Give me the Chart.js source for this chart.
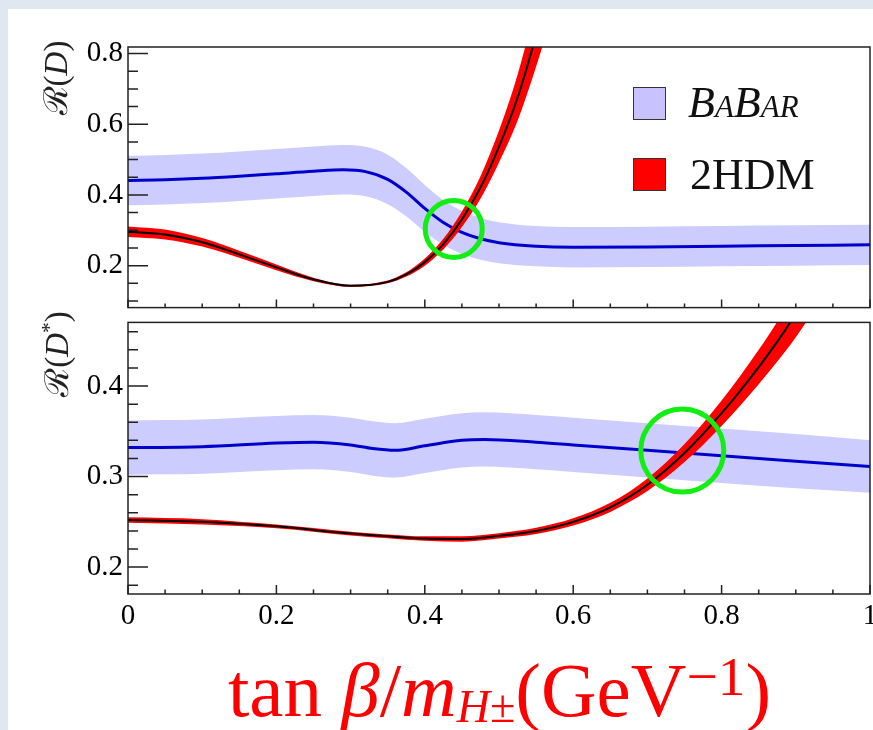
<!DOCTYPE html>
<html>
<head>
<meta charset="utf-8">
<script src="https://cdn.jsdelivr.net/npm/chart.js@4"></script>
<style>
  body { margin: 0; width: 873px; height: 730px; overflow: hidden; background: #dfe7f1; position: relative; font-family: "Liberation Serif", "DejaVu Serif", serif; }
  #paper { position: absolute; left: 8px; top: 9px; width: 900px; height: 730px; background: #fff; }
  canvas { position: absolute; left: 0; }
  #cTop { top: 0; }
  #cBot { top: 300px; }
  .lbox { position: absolute; width: 31px; height: 31px; border: 1.5px solid #333; }
  .ltext { position: absolute; white-space: nowrap; line-height: 1; color: #111; }
  .ytitle { position: absolute; white-space: nowrap; font-size: 33px; line-height: 1; transform: translate(-50%, -50%) rotate(-90deg); color: #222; }
  #xtitle { position: absolute; left: 0; width: 999px; top: 652px; text-align: center; font-size: 77px; line-height: 1; color: #ff0000; white-space: nowrap; }
  #xtitle .sb { font-size: 0.6em; position: relative; top: 6px; }
  #xtitle .sp { font-size: 0.72em; position: relative; top: -21px; }
</style>
</head>
<body>
<div id="paper"></div>
<canvas id="cTop" width="920" height="330" style="width:920px;height:330px"></canvas>
<canvas id="cBot" width="920" height="430" style="width:920px;height:430px"></canvas>

<div class="lbox" style="left:633px;top:87px;background:#c8c2ff"></div>
<div class="ltext" style="left:688px;top:81px;font-size:44px;font-style:italic;font-variant:small-caps">BaBar</div>
<div class="lbox" style="left:633px;top:158px;background:#ff0000"></div>
<div class="ltext" style="left:690px;top:153px;font-size:44px">2HDM</div>

<div class="ytitle" style="left:56px;top:78px">ℛ(<i>D</i>)</div>
<div class="ytitle" style="left:56px;top:354px">ℛ(<i>D</i><sup style="font-size:0.65em">*</sup>)</div>

<div id="xtitle">tan <i>β</i>/<i>m</i><span class="sb"><i>H</i>±</span>(GeV<span class="sp">−1</span>)</div>

<script>
// ---- tick values ----
const xTicks = [0, 0.2, 0.4, 0.6, 0.8, 1];
const xMinor = [0.05, 0.1, 0.15, 0.25, 0.3, 0.35, 0.45, 0.5, 0.55, 0.65, 0.7, 0.75, 0.85, 0.9, 0.95];
const yTicksTop = [0.2, 0.4, 0.6, 0.8];
const yMinorTop = [0.1, 0.15, 0.25, 0.3, 0.35, 0.45, 0.5, 0.55, 0.65, 0.7, 0.75];
const yTicksBot = [0.2, 0.3, 0.4];
const yMinorBot = [0.18, 0.22, 0.24, 0.26, 0.28, 0.32, 0.34, 0.36, 0.38, 0.42, 0.44, 0.46];

// ---- R(D): BaBar band ----
const xBabarD = [0, 0.05, 0.1, 0.15, 0.2, 0.25, 0.29, 0.32, 0.35, 0.375, 0.4, 0.425, 0.45, 0.475, 0.5, 0.55, 0.6, 0.7, 0.8, 0.9, 1];
const babarD = [0.441, 0.443, 0.447, 0.453, 0.460, 0.467, 0.471, 0.466, 0.444, 0.408, 0.362, 0.322, 0.294, 0.276, 0.265, 0.255, 0.252, 0.253, 0.255, 0.257, 0.259];
const babarDHi = [0.511, 0.513, 0.517, 0.523, 0.530, 0.537, 0.541, 0.536, 0.514, 0.476, 0.428, 0.385, 0.355, 0.335, 0.323, 0.312, 0.309, 0.310, 0.312, 0.314, 0.316];
const babarDLo = [0.371, 0.373, 0.377, 0.383, 0.390, 0.397, 0.401, 0.396, 0.374, 0.340, 0.296, 0.259, 0.233, 0.217, 0.207, 0.198, 0.195, 0.196, 0.198, 0.200, 0.202];

// ---- R(D): 2HDM band ----
const xHdmD = [0, 0.05, 0.1, 0.15, 0.2, 0.25, 0.3, 0.35, 0.375, 0.4, 0.425, 0.45, 0.475, 0.5, 0.525, 0.55, 0.575, 0.6];
const hdmD = [0.296, 0.288, 0.266, 0.232, 0.195, 0.161, 0.143, 0.154, 0.175, 0.210, 0.261, 0.331, 0.421, 0.537, 0.675, 0.853, 1.06, 1.30];
const hdmDHi = [0.311, 0.302, 0.278, 0.242, 0.203, 0.166, 0.146, 0.158, 0.181, 0.220, 0.276, 0.353, 0.453, 0.582, 0.740, 0.943, 1.18, 1.45];
const hdmDLo = [0.281, 0.274, 0.254, 0.222, 0.187, 0.156, 0.140, 0.150, 0.169, 0.200, 0.246, 0.309, 0.389, 0.492, 0.610, 0.763, 0.94, 1.15];

// ---- R(D*): BaBar band ----
const xBabarDs = [0, 0.1, 0.2, 0.25, 0.3, 0.33, 0.36, 0.4, 0.45, 0.48, 0.55, 0.6, 0.7, 0.8, 0.9, 1];
const babarDs = [0.332, 0.333, 0.337, 0.338, 0.335, 0.331, 0.329, 0.334, 0.340, 0.341, 0.338, 0.335, 0.329, 0.323, 0.317, 0.311];
const babarDsHi = [0.362, 0.363, 0.367, 0.368, 0.365, 0.361, 0.359, 0.364, 0.370, 0.371, 0.368, 0.365, 0.359, 0.353, 0.347, 0.340];
const babarDsLo = [0.302, 0.303, 0.307, 0.308, 0.305, 0.301, 0.299, 0.304, 0.310, 0.311, 0.308, 0.305, 0.299, 0.293, 0.287, 0.282];

// ---- R(D*): 2HDM band ----
const xHdmDs = [0, 0.1, 0.2, 0.3, 0.35, 0.4, 0.45, 0.5, 0.55, 0.6, 0.65, 0.7, 0.75, 0.8, 0.85, 0.875, 0.9, 0.95];
const hdmDs = [0.252, 0.250, 0.245, 0.237, 0.234, 0.2315, 0.231, 0.2345, 0.240, 0.250, 0.266, 0.291, 0.326, 0.370, 0.421, 0.449, 0.480, 0.550];
const hdmDsHi = [0.255, 0.253, 0.247, 0.239, 0.236, 0.234, 0.234, 0.2375, 0.2435, 0.254, 0.271, 0.298, 0.336, 0.384, 0.440, 0.471, 0.506, 0.584];
const hdmDsLo = [0.249, 0.247, 0.243, 0.235, 0.232, 0.229, 0.228, 0.2315, 0.2365, 0.246, 0.261, 0.284, 0.316, 0.356, 0.402, 0.427, 0.454, 0.516];

// ---- highlighted crossings ----
const crossD = [{ x: 0.439, y: 0.304 }];
const crossDs = [{ x: 0.747, y: 0.3287 }];

const BAND_BLUE = "#ccccff";
const LINE_BLUE = "#0000cc";
const RED = "#ff0000";
const GREEN = "#11ee11";

Chart.defaults.font.family = '"Liberation Serif", "DejaVu Serif", serif';
Chart.defaults.font.size = 29;
Chart.defaults.color = "#000";

function pts(xs, ys) {
  return xs.map((x, i) => ({ x: x, y: ys[i] }));
}

// frame + ROOT style inward ticks
const frameTicks = {
  id: "frameTicks",
  afterDatasetsDraw(chart, args, o) {
    const { ctx, chartArea: a } = chart;
    const x = chart.scales.x, y = chart.scales.y;
    ctx.save();
    ctx.strokeStyle = "#222";
    ctx.lineWidth = 1.5;
    ctx.strokeRect(a.left, a.top, a.right - a.left, a.bottom - a.top);
    ctx.beginPath();
    o.yMajor.forEach((v) => { const p = y.getPixelForValue(v); ctx.moveTo(a.left, p); ctx.lineTo(a.left + 20, p); });
    o.yMinor.forEach((v) => { const p = y.getPixelForValue(v); ctx.moveTo(a.left, p); ctx.lineTo(a.left + 10, p); });
    o.xMajor.forEach((v) => { const p = x.getPixelForValue(v); ctx.moveTo(p, a.bottom); ctx.lineTo(p, a.bottom - o.xLen); });
    o.xMinor.forEach((v) => { const p = x.getPixelForValue(v); ctx.moveTo(p, a.bottom); ctx.lineTo(p, a.bottom - o.xLen / 2); });
    ctx.stroke();
    ctx.restore();
  }
};

function datasets(xB, bC, bHi, bLo, xH, hC, hHi, hLo, circle, radius) {
  const curve = { pointRadius: 0, cubicInterpolationMode: "monotone", fill: false };
  return [
    { data: circle, showLine: false, pointRadius: radius, pointBorderWidth: 5, pointBorderColor: GREEN,
      pointBackgroundColor: "rgba(0,0,0,0)", order: 0, clip: false },
    Object.assign({ data: pts(xH, hC), borderColor: "#000", borderWidth: 2, order: 1 }, curve),
    Object.assign({ data: pts(xH, hLo), borderWidth: 0, borderColor: RED, order: 3 }, curve),
    Object.assign({}, curve, { data: pts(xH, hHi), borderWidth: 0, borderColor: RED, backgroundColor: RED, fill: "-1", order: 2 }),
    Object.assign({ data: pts(xB, bC), borderColor: LINE_BLUE, borderWidth: 3, order: 4 }, curve),
    Object.assign({ data: pts(xB, bLo), borderWidth: 0, borderColor: BAND_BLUE, order: 6 }, curve),
    Object.assign({}, curve, { data: pts(xB, bHi), borderWidth: 0, borderColor: BAND_BLUE, backgroundColor: BAND_BLUE, fill: "-1", order: 5 })
  ];
}

function panel(id, cfg) {
  return new Chart(document.getElementById(id), {
    type: "line",
    data: { datasets: cfg.datasets },
    plugins: [frameTicks],
    options: {
      responsive: false,
      animation: false,
      devicePixelRatio: 1,
      layout: { padding: cfg.padding, autoPadding: false },
      plugins: {
        legend: { display: false },
        tooltip: { enabled: false },
        frameTicks: { yMajor: cfg.yMajor, yMinor: cfg.yMinor, xMajor: xTicks, xMinor: xMinor, xLen: cfg.xLen }
      },
      scales: {
        x: {
          type: "linear", min: 0, max: 1, display: cfg.showX,
          grid: { display: false, drawTicks: false }, border: { display: false },
          ticks: { padding: 5, autoSkip: false, maxRotation: 0, callback: (v) => String(v) },
          afterBuildTicks: (s) => { s.ticks = xTicks.map((v) => ({ value: v })); },
          afterFit: (s) => { if (cfg.showX) s.height = 40; }
        },
        y: {
          type: "linear", min: cfg.yMin, max: cfg.yMax,
          grid: { display: false, drawTicks: false }, border: { display: false },
          ticks: { padding: 5, callback: (v) => String(v) },
          afterBuildTicks: (s) => { s.ticks = cfg.yMajor.map((v) => ({ value: v })); },
          afterFit: (s) => { s.width = 128; }
        }
      }
    }
  });
}

panel("cTop", {
  datasets: datasets(xBabarD, babarD, babarDHi, babarDLo, xHdmD, hdmD, hdmDHi, hdmDLo, crossD, 28.5),
  padding: { top: 47, right: 50, bottom: 12, left: 0 },
  yMin: 0.0813, yMax: 0.8185, yMajor: yTicksTop, yMinor: yMinorTop, xLen: 8, showX: false
});

panel("cBot", {
  datasets: datasets(xBabarDs, babarDs, babarDsHi, babarDsLo, xHdmDs, hdmDs, hdmDsHi, hdmDsLo, crossDs, 41.5),
  padding: { top: 18, right: 50, bottom: 96, left: 0 },
  yMin: 0.1703, yMax: 0.4703, yMajor: yTicksBot, yMinor: yMinorBot, xLen: 9, showX: true
});
</script>
</body>
</html>
